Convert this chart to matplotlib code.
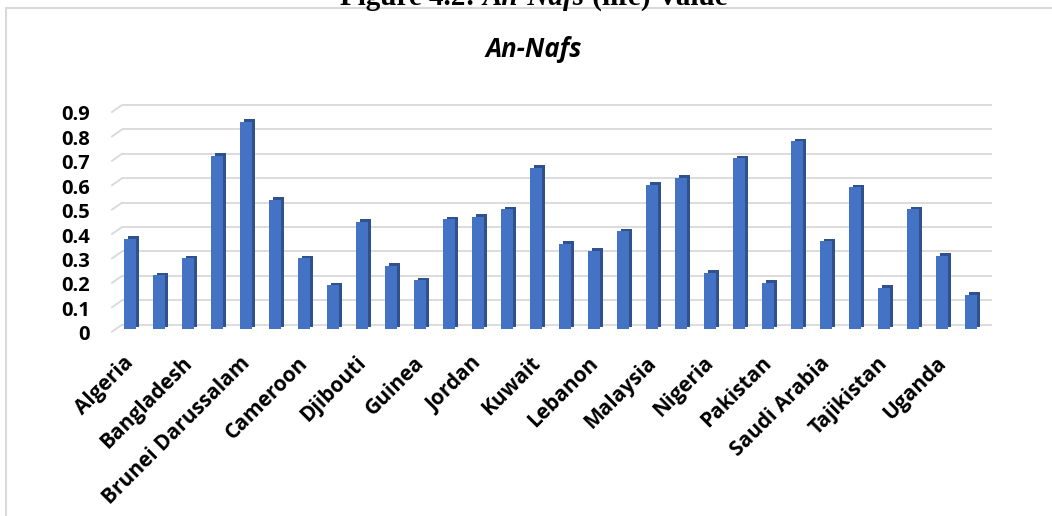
import matplotlib.pyplot as plt
from matplotlib.lines import Line2D
from matplotlib.patches import Rectangle
from matplotlib.transforms import ScaledTranslation, IdentityTransform

countries = ['Algeria', 'Azerbaijan', 'Bangladesh', 'Benin', 'Brunei Darussalam',
             'Burkina Faso', 'Cameroon', 'Chad', 'Djibouti', 'Egypt',
             'Guinea', 'Indonesia', 'Jordan', 'Kazakhstan', 'Kuwait',
             'Kyrgyzstan', 'Lebanon', 'Libya', 'Malaysia', 'Morocco',
             'Nigeria', 'Oman', 'Pakistan', 'Qatar', 'Saudi Arabia',
             'Senegal', 'Tajikistan', 'Turkey', 'Uganda', 'United Arab Emirates']
nafs = [0.37, 0.22, 0.29, 0.71, 0.85, 0.53, 0.29, 0.18, 0.44, 0.26,
        0.20, 0.45, 0.46, 0.49, 0.66, 0.35, 0.32, 0.40, 0.59, 0.62,
        0.23, 0.70, 0.19, 0.77, 0.36, 0.58, 0.17, 0.49, 0.30, 0.14]
yticks = [0, 0.1, 0.2, 0.3, 0.4, 0.5, 0.6, 0.7, 0.8, 0.9]

W, H = 1052, 516
fig = plt.figure(figsize=(W / 100, H / 100), dpi=100)
fig.patch.set_facecolor('white')

# plot area = back wall of the 3d chart
ax = fig.add_axes([122 / W, (H - 324.7) / H, 870 / W, 219.7 / H])
ax.set_xlim(-0.5, len(nafs) - 0.5)
ax.set_ylim(0, 0.9)
for s in ax.spines.values():
    s.set_visible(False)
ax.patch.set_alpha(0)


def shift(dx, dy):
    # pixel offset on top of data coords
    return ax.transData + ScaledTranslation(dx / 100, dy / 100, fig.dpi_scale_trans)


grid_col = '#d9d9d9'
ax.hlines(yticks, -0.5, len(nafs) - 0.5, color=grid_col, lw=1.3, zorder=0, clip_on=False)
fig.canvas.draw()
for v in yticks:
    px, py = ax.transData.transform((-0.5, v))
    fig.add_artist(Line2D([px - 10, px], [py - 7, py], color=grid_col, lw=1.3,
                          transform=IdentityTransform()))

x = list(range(len(nafs)))
bw = 0.41
back = ax.bar(x, nafs, width=bw, color='#2f528f', zorder=2)
front = ax.bar(x, nafs, width=bw, color='#4472c4', zorder=3)
for p in back:
    p.set_transform(shift(-3.0, -1.8))
    p.set_clip_on(False)
for p in front:
    p.set_transform(shift(-6.5, -4.3))
    p.set_clip_on(False)

font = 'Open Sans'
ax.set_yticks(yticks, [f'{v:g}' for v in yticks])
ax.set_xticks(x[::2], countries[::2])
ax.tick_params(length=0)
ax.tick_params(axis='y', pad=23)
ax.tick_params(axis='x', pad=20)
for lbl in ax.get_yticklabels():
    lbl.set_fontfamily(font)
    lbl.set_fontweight('bold')
    lbl.set_fontsize(14.5)
    lbl.set_transform(lbl.get_transform() + ScaledTranslation(0, -0.08, fig.dpi_scale_trans))
for lbl in ax.get_xticklabels():
    lbl.set_fontfamily(font)
    lbl.set_fontweight('bold')
    lbl.set_fontsize(15)
    lbl.set_rotation(45)
    lbl.set_ha('right')
    lbl.set_va('top')
    lbl.set_rotation_mode('anchor')
    lbl.set_transform(lbl.get_transform() + ScaledTranslation(-0.13, 0, fig.dpi_scale_trans))

fig.text(534 / W, 1 - 57 / H, 'An-Nafs', family=font, weight='bold', style='italic',
         fontsize=18.5, ha='center', va='baseline')

# chart frame
fig.add_artist(Rectangle((6 / W, -0.1), 1.2, 1 - 8 / H + 0.1, fill=False,
                         edgecolor='#d9d9d9', lw=1.5, transform=fig.transFigure))

# caption of the figure, clipped at the top edge
base_y = 1 - 5 / H
parts = [('Figure 4.2: ', 'normal'), ('An-Nafs', 'italic'), (' (life) Value', 'normal')]
fig.canvas.draw()
r = fig.canvas.get_renderer()
widths = []
for txt, st in parts:
    t = fig.text(0, base_y, txt, family='Liberation Serif', weight='bold', style=st,
                 fontsize=21, va='baseline')
    widths.append(t.get_window_extent(r).width)
    t.remove()
xpos = 534 - sum(widths) / 2
for (txt, st), w in zip(parts, widths):
    fig.text(xpos / W, base_y, txt, family='Liberation Serif', weight='bold', style=st,
             fontsize=21, va='baseline')
    xpos += w

fig.savefig('out.png', dpi=100)
